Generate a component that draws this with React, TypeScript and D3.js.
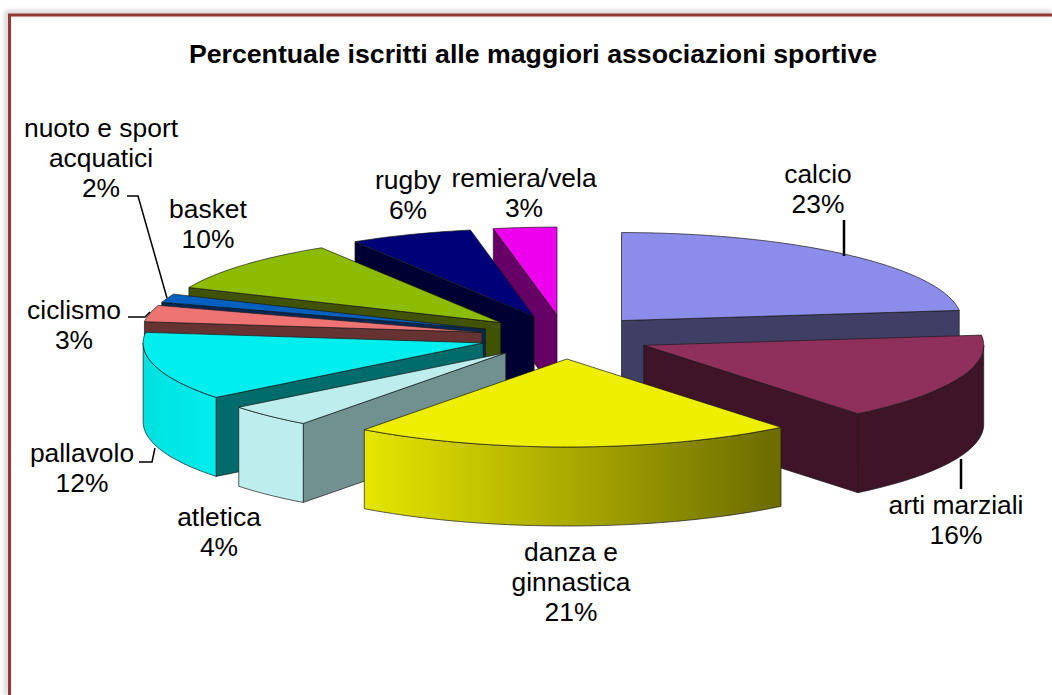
import React from "react";
import * as d3 from "d3";

const categories = ["calcio", "arti marziali", "danza e ginnastica", "atletica", "pallavolo", "ciclismo", "nuoto e sport acquatici", "basket", "rugby", "remiera/vela"];
const values = [23.15, 16, 21, 4.22, 12.54, 3.03, 1.58, 9.64, 5.83, 3];
const topColors = ["#8C8CEB", "#8E2F5C", "#EEEE00", "#BDEDED", "#00EEEE", "#EE7474", "#005FBF", "#8CBB00", "#000078", "#EE00EE"];
const wallColors = ["#3F3F66", "#3F1428", "#6B6B00", "#719090", "#006B6B", "#663333", "#002A55", "#3F5300", "#000033", "#660066"];
const rimStart = ["#3F3F66", "#3F1428", "#E6E600", "#BDEDED", "#00E0E0", "#663333", "#002A55", "#3F5300", "#000033", "#660066"];
const rimEnd = ["#3F3F66", "#3F1428", "#6B6B00", "#BDEDED", "#00EEEE", "#663333", "#002A55", "#3F5300", "#000033", "#660066"];
const titleText = "Percentuale iscritti alle maggiori associazioni sportive";

const labelLines = [
  { i: 0, lines: ["calcio", "23%"], x: 818, y: 183 },
  { i: 1, lines: ["arti marziali", "16%"], x: 956, y: 514 },
  { i: 2, lines: ["danza e", "ginnastica", "21%"], x: 571, y: 561 },
  { i: 3, lines: ["atletica", "4%"], x: 219, y: 526 },
  { i: 4, lines: ["pallavolo", "12%"], x: 82, y: 462 },
  { i: 5, lines: ["ciclismo", "3%"], x: 74, y: 319 },
  { i: 6, lines: ["nuoto e sport", "acquatici", "2%"], x: 101, y: 137 },
  { i: 7, lines: ["basket", "10%"], x: 208, y: 218 },
  { i: 8, lines: ["rugby", "6%"], x: 408, y: 189 },
  { i: 9, lines: ["remiera/vela", "3%"], x: 524, y: 187 },
];
const leaders: [number, number][][] = [
  [[844, 220], [844, 256]],
  [[961, 459], [961, 489]],
  [[127, 196], [138, 196], [167, 298]],
  [[128, 317], [145, 317], [150, 312]],
  [[139, 462], [152, 462], [155, 448]],
];

const cx = 565, cy = 337, rx = 340, ry = 88, depth = 79, explode = 0.25;
const drawOrder = [0, 9, 8, 7, 6, 5, 4, 3, 1, 2];

const pie = d3.pie<number>().sort(null).startAngle(0).endAngle(2 * Math.PI);

function arcPts(ax: number, ay: number, a0: number, a1: number, dy = 0) {
  const n = Math.max(2, Math.ceil(Math.abs(a1 - a0) / 0.02));
  return d3.range(n + 1).map((k) => {
    const a = a0 + ((a1 - a0) * k) / n;
    return [ax + rx * Math.sin(a), ay - ry * Math.cos(a) + dy] as [number, number];
  });
}
const line = d3.line<[number, number]>();

export default function App() {
  const arcs = pie(values);
  return (
    <svg width={1052} height={695} style={{ position: "absolute", left: 0, top: 0, background: "#fff" }}>
      <defs>
        <filter id="shadow" x="-2%" y="-2%" width="104%" height="104%">
          <feGaussianBlur stdDeviation="2.5" />
        </filter>
        {values.map((_, i) => (
          <linearGradient key={i} id={`rim${i}`} x1="0" x2="1" y1="0" y2="0">
            <stop offset="0" stopColor={rimStart[i]} />
            <stop offset="1" stopColor={rimEnd[i]} />
          </linearGradient>
        ))}
      </defs>
      <path d="M7,695 V13 H1052" fill="none" stroke="#999" strokeOpacity={0.55} strokeWidth={4} filter="url(#shadow)" />
      <path d="M9.5,695 V15 H1052" fill="none" stroke="#953735" strokeWidth={3} />
      <text x={533} y={63} textAnchor="middle" fontFamily="Liberation Sans" fontWeight="bold" fontSize={26.7} fill="#000">{titleText}</text>
      {drawOrder.map((i) => {
        const { startAngle: a0, endAngle: a1 } = arcs[i];
        const mid = (a0 + a1) / 2;
        const ax = cx + explode * rx * Math.sin(mid);
        const ay = cy - explode * ry * Math.cos(mid);
        const outer = arcPts(ax, ay, a0, a1);
        const stroke = { stroke: "#1a1a1a", strokeWidth: 0.7, strokeLinejoin: "round" as const };
        const lo = Math.max(a0, Math.PI / 2), hi = Math.min(a1, (3 * Math.PI) / 2);
        const wall = (a: number) => {
          const e: [number, number] = [ax + rx * Math.sin(a), ay - ry * Math.cos(a)];
          return line([[ax, ay], e, [e[0], e[1] + depth], [ax, ay + depth]])! + "Z";
        };
        return (
          <g key={categories[i]}>
            {Math.sin(a0) < -1e-6 && <path d={wall(a0)} fill={wallColors[i]} {...stroke} />}
            {Math.sin(a1) > 1e-6 && <path d={wall(a1)} fill={wallColors[i]} {...stroke} />}
            {lo < hi && (
              <path
                d={line([...arcPts(ax, ay, lo, hi), ...arcPts(ax, ay, hi, lo, depth)])! + "Z"}
                fill={i === 2 || i === 4 ? `url(#rim${i})` : rimEnd[i]}
                {...stroke}
              />
            )}
            <path d={line([[ax, ay], ...outer])! + "Z"} fill={topColors[i]} {...stroke} />
          </g>
        );
      })}
      {leaders.map((pts, k) => (
        <path key={k} d={line(pts)!} fill="none" stroke="#000" strokeWidth={k < 2 ? 2.5 : 1.5} />
      ))}
      {labelLines.map((l) => (
        <text key={l.i} textAnchor="middle" fontFamily="Liberation Sans" fontSize={26.4} fill="#000">
          {l.lines.map((t, j) => (
            <tspan key={j} x={l.x} y={l.y + j * 30}>{t}</tspan>
          ))}
        </text>
      ))}
    </svg>
  );
}
